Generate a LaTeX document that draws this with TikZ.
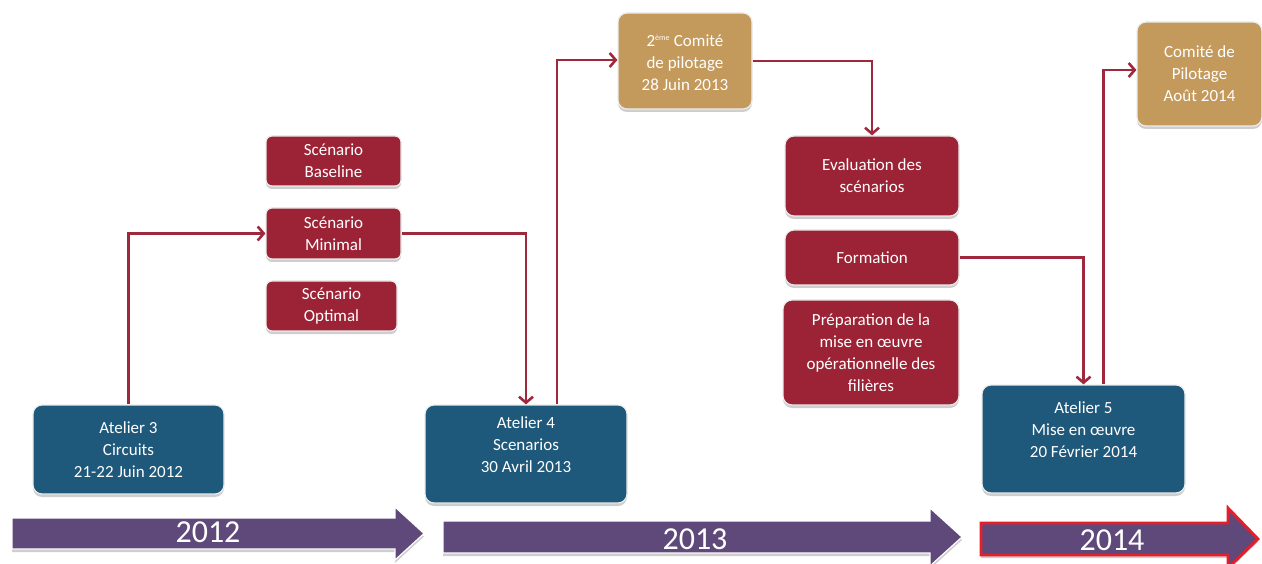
\documentclass[tikz,border=0pt]{standalone}
\usepackage{fontspec}
\setmainfont{Carlito}
\usetikzlibrary{arrows.meta,shadows}
\definecolor{bluebox}{RGB}{30,88,122}
\definecolor{redbox}{RGB}{155,35,53}
\definecolor{goldbox}{RGB}{196,153,92}
\definecolor{purplebar}{RGB}{95,73,122}
\definecolor{linered}{RGB}{160,40,60}
\definecolor{outlinered}{RGB}{230,30,40}
\begin{document}
\begin{tikzpicture}[x=1pt,y=-1pt,
  box/.style={rounded corners=9pt, draw=gray!15, line width=1.2pt, text=white, align=center,
    font=\fontsize{17}{22}\selectfont, inner sep=0pt,
    drop shadow={shadow xshift=0pt,shadow yshift=-3pt,fill=gray!55,opacity=0.7}},
  atelier/.style={box, fill=bluebox},
  comite/.style={box, fill=goldbox},
  scen/.style={box, fill=redbox, rounded corners=6pt},
  task/.style={box, fill=redbox},
  link/.style={draw=linered, line width=2.6pt, -{Straight Barb[length=6pt,width=14pt]}},
  yearbar/.style={fill=purplebar, draw=white, line width=1.2pt,
    drop shadow={shadow xshift=0pt,shadow yshift=-3pt,fill=gray!55,opacity=0.7}},
  yeartext/.style={text=white, font=\fontsize{32}{32}\selectfont, inner sep=0pt}
]
\useasboundingbox (0,0) rectangle (1262,564);

% year arrows
\path[yearbar] (12,518) -- (395,518) -- (395,507) -- (424,533.5) -- (395,560) -- (395,549) -- (12,549) -- cycle;
\node[yeartext] (y12) at (208,532) {2012};
\path[yearbar] (443,521) -- (930,521) -- (930,508) -- (962,537) -- (930,566) -- (930,553) -- (443,553) -- cycle;
\node[yeartext] (y13) at (695,539) {2013};
\path[yearbar, draw=outlinered, line width=2.8pt] (981,523) -- (1228,523) -- (1228,508) -- (1258,539) -- (1228,568) -- (1228,555) -- (981,555) -- cycle;
\node[yeartext] (y14) at (1112,540) {2014};

% boxes
\node[atelier, minimum width=191pt, minimum height=89pt] (at3) at (128.5,449.5) {Atelier 3\\Circuits\\21-22 Juin 2012};
\node[atelier, minimum width=202pt, minimum height=98pt] (at4) at (526,454) {Atelier 4\\Scenarios\\30 Avril 2013\\[-10pt]\strut};
\node[atelier, minimum width=203pt, minimum height=108pt] (at5) at (1083.5,439) {Atelier 5\\Mise en œuvre\\20 Février 2014\\[-10pt]\strut};

\node[comite, minimum width=134pt, minimum height=96pt] (com2) at (685,61) {\strut 2\textsuperscript{\fontsize{8}{8}\selectfont ème} Comité\\de pilotage\\28 Juin 2013};
\node[comite, minimum width=125pt, minimum height=104pt] (com3) at (1199.5,74) {Comité de\\Pilotage\\Août 2014};

\node[scen, minimum width=135pt, minimum height=50pt] (sbase) at (333.5,161) {Scénario\\Baseline};
\node[scen, minimum width=135pt, minimum height=51pt] (smin) at (333.5,233.5) {Scénario\\Minimal};
\node[scen, minimum width=131pt, minimum height=50pt] (sopt) at (331.5,306) {Scénario\\Optimal};

\node[task, minimum width=174pt, minimum height=80pt] (eval) at (872,176) {Evaluation des\\scénarios};
\node[task, minimum width=174pt, minimum height=55pt] (form) at (872,257.5) {Formation};
\node[task, minimum width=176pt, minimum height=105pt] (prep) at (871,352.5) {Préparation de la\\mise en œuvre\\opérationnelle des\\filières};

% connectors
\draw[link] (at3.north) |- (smin.west);
\draw[link] (smin.east) -| (at4.north);
\draw[link] ([xshift=31pt]at4.north) |- ([yshift=1pt]com2.west);
\draw[link] (com2.east) -| (eval.north);
\draw[link] (form.east) -| (at5.north);
\draw[link] ([xshift=20pt]at5.north) |- ([yshift=4pt]com3.west);
\end{tikzpicture}
\end{document}
